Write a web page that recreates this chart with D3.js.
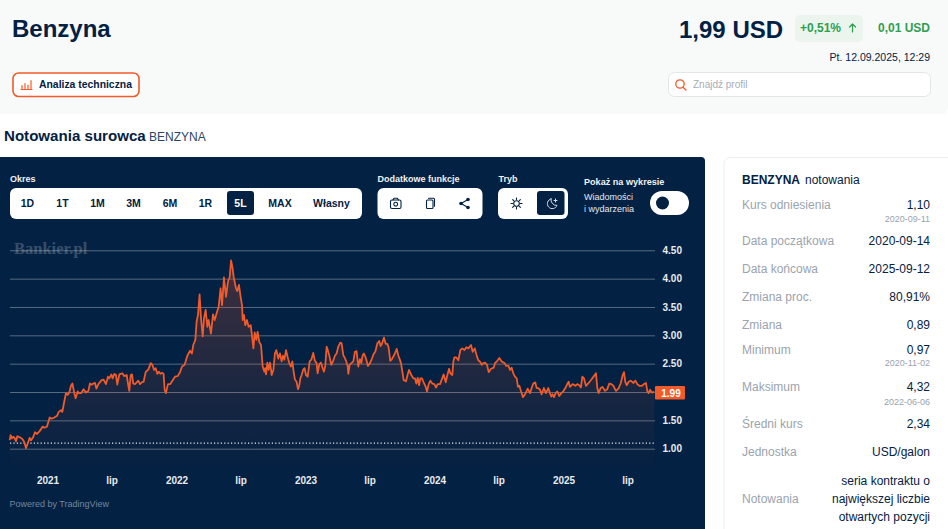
<!DOCTYPE html>
<html lang="pl">
<head>
<meta charset="utf-8">
<script src="https://cdn.jsdelivr.net/npm/d3@7"></script>
<style>
html,body{margin:0;padding:0;background:#fff;overflow:hidden}
svg{display:block;font-family:"Liberation Sans",Arial,sans-serif}
</style>
</head>
<body>
<svg id="c" width="948" height="529"></svg>
<script>
// Price series: time in decimal years, price in USD/gallon
const times = [
2020.707,2020.714,2020.725,2020.735,2020.745,2020.756,2020.766,2020.787,2020.805,2020.82,2020.833,2020.849,2020.862,2020.872,2020.888,2020.903,2020.919,2020.939,2020.963,2020.975,2020.996,
2021.017,2021.032,2021.053,2021.074,2021.087,2021.105,2021.115,2021.128,2021.143,2021.156,2021.169,2021.182,2021.193,2021.208,2021.218,2021.234,2021.244,2021.26,2021.28,2021.298,2021.317,2021.329,2021.342,2021.355,2021.368,2021.379,2021.394,2021.42,2021.435,2021.453,2021.469,2021.479,2021.495,2021.505,2021.518,2021.531,2021.541,2021.557,2021.58,2021.596,2021.614,2021.624,2021.634,2021.645,2021.655,2021.665,2021.678,2021.704,2021.717,2021.735,2021.745,2021.761,2021.782,2021.8,2021.813,2021.826,2021.839,2021.851,2021.864,2021.875,2021.888,2021.9,2021.908,2021.918,2021.934,2021.952,2021.968,2021.988,
2022.009,2022.027,2022.043,2022.063,2022.084,2022.105,2022.12,2022.13,2022.146,2022.156,2022.167,2022.179,2022.19,2022.203,2022.213,2022.226,2022.239,2022.249,2022.267,2022.283,2022.296,2022.311,2022.327,2022.342,2022.353,2022.368,2022.384,2022.399,2022.412,2022.423,2022.435,2022.443,2022.461,2022.471,2022.484,2022.497,2022.508,2022.513,2022.523,2022.533,2022.546,2022.559,2022.575,2022.585,2022.596,2022.606,2022.619,2022.629,2022.642,2022.655,2022.668,2022.681,2022.688,2022.694,2022.704,2022.714,2022.725,2022.738,2022.751,2022.763,2022.774,2022.789,2022.802,2022.815,2022.825,2022.836,2022.849,2022.861,2022.874,2022.887,2022.898,2022.908,2022.918,2022.931,2022.942,2022.952,2022.96,2022.97,2022.983,2022.993,
2023.004,2023.017,2023.032,2023.045,2023.06,2023.073,2023.086,2023.094,2023.107,2023.12,2023.133,2023.143,2023.153,2023.164,2023.174,2023.187,2023.2,2023.213,2023.228,2023.241,2023.254,2023.27,2023.28,2023.293,2023.303,2023.316,2023.327,2023.332,2023.342,2023.355,2023.371,2023.383,2023.396,2023.409,2023.422,2023.433,2023.443,2023.453,2023.469,2023.484,2023.5,2023.515,2023.528,2023.541,2023.557,2023.572,2023.582,2023.593,2023.608,2023.621,2023.634,2023.644,2023.657,2023.67,2023.691,2023.707,2023.72,2023.73,2023.74,2023.751,2023.761,2023.779,2023.792,2023.802,2023.818,2023.836,2023.849,2023.859,2023.87,2023.88,2023.89,2023.903,2023.914,2023.932,2023.942,2023.955,2023.968,2023.983,2023.999,
2024.012,2024.025,2024.043,2024.061,2024.071,2024.087,2024.1,2024.113,2024.123,2024.138,2024.146,2024.154,2024.169,2024.185,2024.2,2024.216,2024.232,2024.247,2024.263,2024.283,2024.296,2024.312,2024.33,2024.34,2024.355,2024.366,2024.379,2024.392,2024.407,2024.42,2024.438,2024.459,2024.469,2024.487,2024.503,2024.521,2024.542,2024.557,2024.573,2024.586,2024.598,2024.611,2024.624,2024.637,2024.647,2024.658,2024.671,2024.686,2024.702,2024.722,2024.74,2024.753,2024.766,2024.781,2024.792,2024.805,2024.818,2024.83,2024.848,2024.864,2024.882,2024.895,2024.905,2024.916,2024.926,2024.939,2024.952,2024.967,2024.983,2024.998,
2025.014,2025.029,2025.04,2025.05,2025.071,2025.092,2025.107,2025.122,2025.135,2025.146,2025.159,2025.174,2025.195,2025.216,2025.236,2025.252,2025.262,2025.272,2025.288,2025.303,2025.321,2025.339,2025.355,2025.371,2025.386,2025.407,2025.428,2025.443,2025.459,2025.469,2025.479,2025.49,2025.505,2025.521,2025.542,2025.557,2025.572,2025.588,2025.608,2025.624,2025.639,2025.65,2025.66,2025.671,2025.684,2025.696,2025.704
];
const prices = [
1.15,1.24,1.18,1.21,1.19,1.13,1.22,1.20,1.17,1.12,1.01,1.11,1.19,1.15,1.20,1.29,1.26,1.31,1.39,1.37,1.39,
1.55,1.53,1.55,1.58,1.65,1.68,1.65,1.81,1.98,1.95,1.99,2.11,2.15,1.98,1.89,2.01,1.98,1.98,2.05,1.99,2.02,2.15,2.13,2.15,2.16,2.06,2.14,2.21,2.22,2.14,2.27,2.24,2.31,2.24,2.32,2.30,2.13,2.31,2.33,2.28,2.30,2.15,2.02,2.30,2.31,2.15,2.14,2.20,2.14,2.18,2.18,2.35,2.40,2.51,2.48,2.39,2.42,2.32,2.36,2.32,2.34,2.32,2.04,1.98,2.14,2.14,2.20,2.27,
2.28,2.35,2.45,2.48,2.64,2.73,2.68,2.83,2.92,3.24,3.37,3.72,3.30,2.98,3.30,3.45,3.15,3.27,3.03,3.37,3.27,3.39,3.51,3.83,3.53,4.02,3.68,3.95,4.02,4.32,4.18,4.03,3.83,3.78,3.89,3.68,3.53,3.27,3.36,3.18,3.27,3.15,3.18,3.00,2.77,3.05,2.92,3.06,2.88,2.83,2.45,2.36,2.42,2.31,2.52,2.39,2.52,2.30,2.39,2.68,2.74,2.59,2.68,2.54,2.64,2.57,2.74,2.62,2.51,2.45,2.54,2.36,2.22,2.18,2.05,2.12,2.24,2.30,2.40,2.42,
2.30,2.27,2.54,2.57,2.69,2.55,2.51,2.33,2.49,2.52,2.42,2.36,2.46,2.80,2.73,2.62,2.48,2.54,2.64,2.68,2.80,2.87,2.86,2.65,2.61,2.54,2.46,2.32,2.48,2.51,2.54,2.71,2.72,2.45,2.58,2.51,2.65,2.68,2.59,2.46,2.51,2.59,2.67,2.71,2.86,2.90,2.81,2.85,2.96,2.85,2.85,2.79,2.55,2.58,2.67,2.76,2.64,2.58,2.51,2.36,2.21,2.19,2.31,2.39,2.31,2.24,2.24,2.15,2.25,2.12,2.24,2.24,2.18,2.09,2.01,2.14,2.20,2.15,2.14,
2.08,2.14,2.14,2.25,2.31,2.17,2.30,2.41,2.33,2.30,2.54,2.61,2.61,2.56,2.74,2.77,2.74,2.79,2.77,2.83,2.71,2.77,2.62,2.56,2.53,2.48,2.51,2.52,2.48,2.35,2.41,2.43,2.51,2.55,2.60,2.54,2.51,2.46,2.46,2.39,2.43,2.33,2.27,2.24,2.09,2.11,2.01,1.91,1.96,2.06,1.98,2.07,2.15,2.17,2.07,2.07,2.04,1.96,2.07,1.98,2.07,1.98,1.92,1.96,1.91,1.98,2.01,1.93,1.98,2.01,
2.07,2.14,2.18,2.09,2.14,2.11,2.14,2.12,2.08,2.27,2.24,2.11,2.16,2.22,2.28,2.33,2.07,1.98,2.07,2.09,2.02,2.05,2.15,2.14,2.11,2.02,2.07,2.15,2.30,2.35,2.18,2.12,2.18,2.20,2.16,2.20,2.14,2.11,2.11,2.14,2.16,2.01,1.98,2.04,1.99,2.00,1.99
];
const referencePrice = 1.10;
const lastPrice = 1.99;
const yTicks = [1,1.5,2,2.5,3,3.5,4,4.5];
const xTickYears = [2021,2021.496,2022,2022.496,2023,2023.496,2024,2024.496,2025,2025.496];
const xTickLabels = ["2021","lip","2022","lip","2023","lip","2024","lip","2025","lip"];
const periods = ["1D","1T","1M","3M","6M","1R","5L","MAX","Własny"];
const activePeriod = "5L";
const statLabels = ["Kurs odniesienia","Data początkowa","Data końcowa","Zmiana proc.","Zmiana","Minimum","Maksimum","Średni kurs","Jednostka"];
const statValues = ["1,10","2020-09-14","2025-09-12","80,91%","0,89","0,97","4,32","2,34","USD/galon"];
const statDates = ["2020-09-11","","","","","2020-11-02","2022-06-06","",""];
const quoteLines = ["seria kontraktu o","największej liczbie","otwartych pozycji"];

const NAVY="#032143", ORANGE="#f15a29", GREEN="#2e9e4f", GREY="#9aa3ae";
const svg=d3.select("#c");
const T=(x,y,s,size,fill,o={})=>svg.append("text").attr("x",x).attr("y",y).text(s)
  .attr("font-size",size).attr("fill",fill).attr("font-weight",o.w||"normal")
  .attr("text-anchor",o.a||"start").attr("font-family",o.f||null).attr("opacity",o.o||null);
const R=(x,y,w,h,r,fill,stroke,sw)=>svg.append("rect").attr("x",x).attr("y",y).attr("width",w).attr("height",h)
  .attr("rx",r).attr("fill",fill).attr("stroke",stroke||"none").attr("stroke-width",sw||0);
const P=(d,stroke,sw,fill)=>svg.append("path").attr("d",d).attr("fill",fill||"none").attr("stroke",stroke||"none").attr("stroke-width",sw||0).attr("stroke-linecap","round").attr("stroke-linejoin","round");

// header
svg.append("path").attr("d","M0 0H948V108a6 6 0 0 1 -6 6H0Z").attr("fill","#f8fafa");
T(12,37,"Benzyna",24,NAVY,{w:"bold"});
T(679,37.5,"1,99 USD",24,NAVY,{w:"bold"});
R(795,15,68,27,5,"#ebf5ee");
T(800,32,"+0,51%",12,GREEN,{w:"bold"});
P("M852.5 32V24M849.5 27l3 -3l3 3",GREEN,1.2);
T(930,32,"0,01 USD",12,GREEN,{w:"bold",a:"end"});
T(930,61,"Pt. 12.09.2025, 12:29",10.5,NAVY,{a:"end"});
R(13,73,126,23.5,5.5,"#fff",ORANGE,1.6);
P("M22 88.5V85.5M25 88.5V83.5M28 88.5V85M31 88.5V80.5M21 89.5H32",ORANGE,1.2);
T(39,88,"Analiza techniczna",10.4,NAVY,{w:"bold"});
R(668.5,72.5,262,24,6,"#fff","#e3e6e8",1);
svg.append("circle").attr("cx",680).attr("cy",84).attr("r",4.2).attr("fill","none").attr("stroke",ORANGE).attr("stroke-width",1.3);
P("M683 87.2L686 90",ORANGE,1.3);
T(693,88,"Znajdź profil",10,"#a6adb5");

// section title
T(4,141,"Notowania surowca",15.1,NAVY,{w:"bold"});
T(149,141,"BENZYNA",12,"#2c4566");

// chart panel
svg.append("path").attr("d","M0 157H701a4 4 0 0 1 4 4V529H0Z").attr("fill",NAVY);
T(10,181.5,"Okres",9,"#f0f2f5",{w:"bold"});
R(10,188,352,31,6,"#fff");
const periodCentres=d3.scaleOrdinal().domain(periods).range([27.5,62.5,97.5,133.5,170,205.5,240.5,280,331.5]);
periods.forEach(p=>{
  const on=p===activePeriod, cx=periodCentres(p);
  if(on) R(cx-13.5,191,27,24,3,NAVY);
  T(cx,207,p,10.5,on?"#fff":NAVY,{w:"bold",a:"middle"});
});
T(377.5,181.5,"Dodatkowe funkcje",9,"#f0f2f5",{w:"bold"});
R(377.5,188,105,31,6,"#fff");
// camera, copy, share
R(390.5,200,10.5,8.5,1.5,"none",NAVY,1.1);
P("M393 200l1 -1.8h3.4l1 1.8",NAVY,1.1);
svg.append("circle").attr("cx",395.7).attr("cy",204.2).attr("r",1.9).attr("fill","none").attr("stroke",NAVY).attr("stroke-width",1.1);
R(426.5,200,6.5,8.5,1,"none",NAVY,1.1);
P("M428.5 198.3h5a1 1 0 0 1 1 1v7",NAVY,1.1);
P("M468 199.5L461 203.5L468 207.5",NAVY,1.1);
[[468,199.5],[461,203.5],[468,207.5]].forEach(c=>svg.append("circle").attr("cx",c[0]).attr("cy",c[1]).attr("r",1.8).attr("fill",NAVY));
T(498.5,181.5,"Tryb",9,"#f0f2f5",{w:"bold"});
R(498,188,70,31,6,"#fff");
R(537,191,27.5,24,3,NAVY);
svg.append("circle").attr("cx",516.5).attr("cy",203.5).attr("r",2.8).attr("fill","none").attr("stroke",NAVY).attr("stroke-width",1.1);
P("M516.5 198v1.6M516.5 207.4v1.6M511 203.5h1.6M520.4 203.5h1.6M512.6 199.6l1.1 1.1M519.3 206.3l1.1 1.1M512.6 207.4l1.1 -1.1M519.3 200.7l1.1 -1.1",NAVY,1.1);
P("M551 198.8a5 5 0 1 0 6 6.6a5.6 5.6 0 0 1 -6 -6.6ZM555.5 199v3M554 200.5h3","#d8dde4",1);
T(584,185,"Pokaż na wykresie",9.1,"#f0f2f5",{w:"bold"});
T(584,200,"Wiadomości",9,"#e6e9ee");
T(584,212,"i wydarzenia",9,"#e6e9ee");
R(650,191,39,24,12,"#fff");
svg.append("circle").attr("cx",662.5).attr("cy",203).attr("r",6.5).attr("fill",NAVY);

// plot
const x=d3.scaleLinear().domain([2021,2025]).range([47.5,563.5]);
const y=d3.scaleLinear().domain([1,4.5]).range([448.7,250.3]);
const defs=svg.append("defs");
const g=defs.append("linearGradient").attr("id","af").attr("gradientUnits","userSpaceOnUse").attr("x1",0).attr("x2",0).attr("y1",262).attr("y2",470);
g.append("stop").attr("offset",0).attr("stop-color",ORANGE).attr("stop-opacity",.25);
g.append("stop").attr("offset",1).attr("stop-color",ORANGE).attr("stop-opacity",0);

T(14,254,"Bankier.pl",16.5,"#fff",{w:"bold",f:"'Liberation Serif',serif",o:.2});
const gridG=svg.append("g")
  .call(d3.axisRight(y).tickValues(yTicks).tickSize(0).tickFormat(d=>d.toFixed(2)));
gridG.select(".domain").remove();
gridG.selectAll(".tick text").remove();
gridG.selectAll(".tick").append("line").attr("x1",10).attr("x2",655).attr("stroke","#fff").attr("stroke-opacity",.33).attr("stroke-width",1);

const series=times.map((t,i)=>({t,p:prices[i]}));
svg.append("path").datum(series).attr("fill","url(#af)")
  .attr("d",d3.area().x(d=>x(d.t)).y0(470).y1(d=>y(d.p)));
svg.append("line").attr("x1",10).attr("x2",655).attr("y1",y(referencePrice)).attr("y2",y(referencePrice))
  .attr("stroke","#fff").attr("stroke-width",1.2).attr("stroke-dasharray","1.2 2.2").attr("stroke-opacity",.9);
svg.append("path").datum(series).attr("fill","none").attr("stroke",ORANGE).attr("stroke-width",1.8).attr("stroke-linejoin","round")
  .attr("d",d3.line().x(d=>x(d.t)).y(d=>y(d.p)));

const yAxis=svg.append("g").attr("transform","translate(662.5,0)")
  .call(d3.axisRight(y).tickValues(yTicks).tickSize(0).tickPadding(0).tickFormat(d=>d.toFixed(2)));
yAxis.select(".domain").remove();
yAxis.selectAll("text").attr("fill","#e8ebef").attr("font-size",10).attr("font-weight","bold").attr("font-family",null);

const xAxis=svg.append("g").attr("transform","translate(0,474)")
  .call(d3.axisBottom(x).tickValues(xTickYears).tickSize(0).tickPadding(3).tickFormat((d,i)=>xTickLabels[i]));
xAxis.select(".domain").remove();
xAxis.selectAll("text").attr("fill","#e8ebef").attr("font-size",10).attr("font-weight","bold").attr("font-family",null);

R(655,386,30,13.5,1,ORANGE);
T(671,396.5,lastPrice.toFixed(2),10,"#fff",{w:"bold",a:"middle"});
T(9.5,507,"Powered by TradingView",9,"#76869c");

// stats card
svg.append("path").attr("d","M948 157.5H730a6 6 0 0 0 -6 6V529").attr("fill","#fff").attr("stroke","#eceef0").attr("stroke-width",1);
T(742,184,"BENZYNA",12,NAVY,{w:"bold"});
T(805,184,"notowania",12,NAVY);
const rowY=[208.5,245,273,301,329,353.5,391,427.5,456];
const dateY=[222,0,0,0,0,366,405,0,0];
statLabels.forEach((l,i)=>{
  T(742,rowY[i],l,12,GREY);
  T(930,rowY[i],statValues[i],12,NAVY,{a:"end"});
  if(statDates[i]) T(930,dateY[i],statDates[i],9,GREY,{a:"end"});
});
T(742,503,"Notowania",12,GREY);
quoteLines.forEach((l,i)=>T(930,485+18*i,l,12,NAVY,{a:"end"}));
</script>
</body>
</html>
